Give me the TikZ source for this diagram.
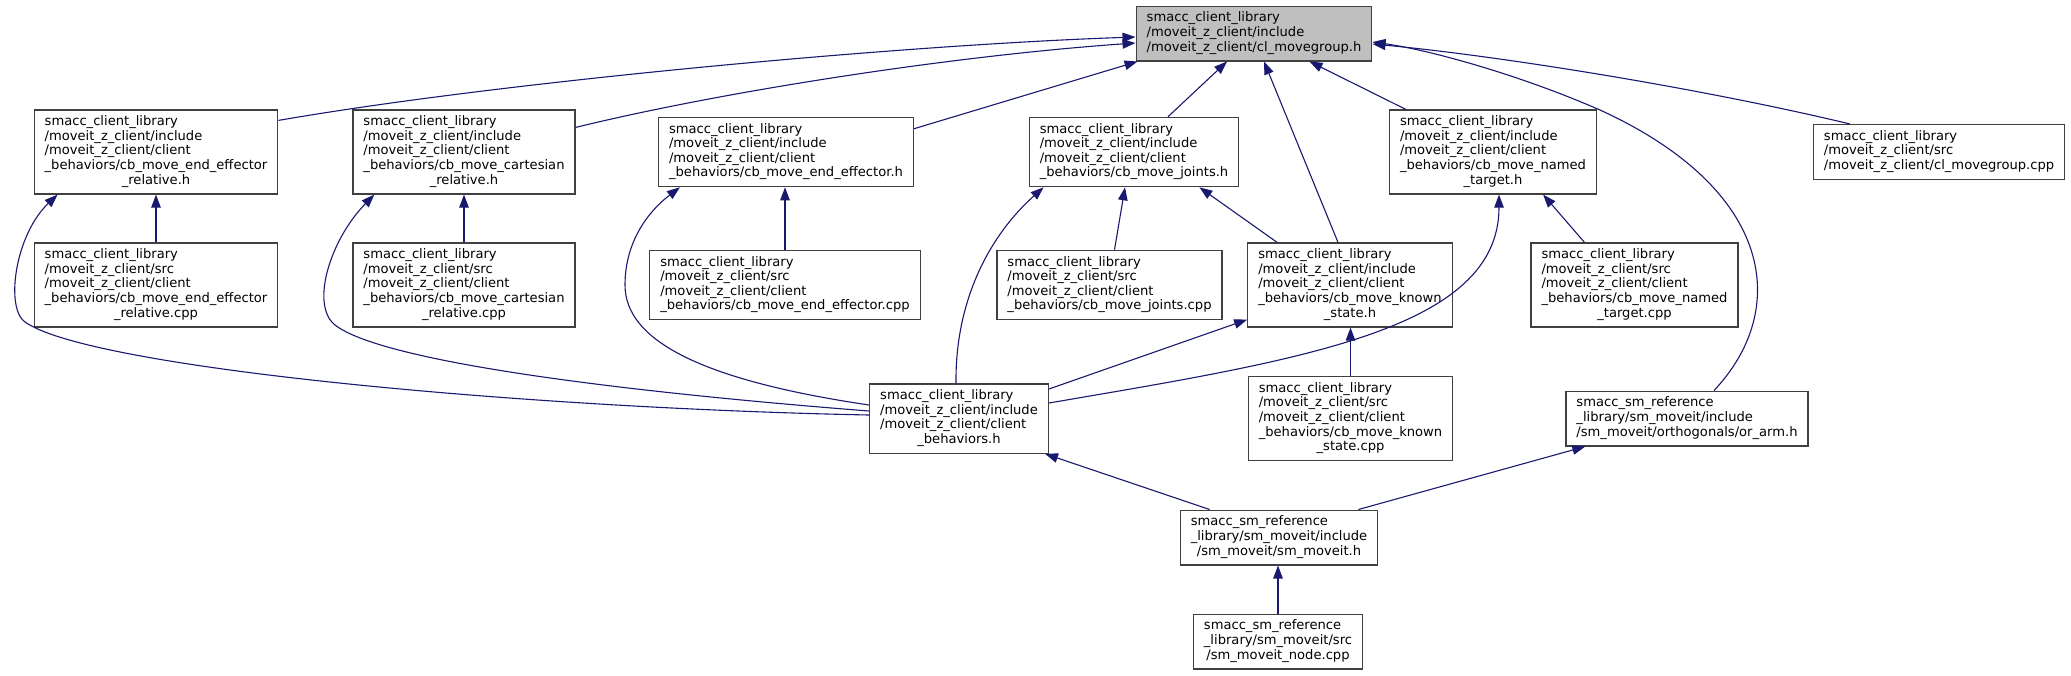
\documentclass[tikz,border=0pt]{standalone}
\usepackage{fontspec}
\setmainfont{DejaVu Sans}
\usetikzlibrary{arrows.meta,calc}
\definecolor{edgeblue}{HTML}{191970}
\definecolor{boxgray}{HTML}{404040}
\definecolor{topfill}{HTML}{BFBFBF}
\newcommand{\lbl}[2]{\begin{tabular}{@{}l@{}}#1\\\multicolumn{1}{@{}c@{}}{#2}\end{tabular}}
\tikzset{
  box/.style={draw=boxgray, line width=1.3pt, fill=white, font=\fontsize{13.1}{14.6}\selectfont,
    inner xsep=10.5pt, inner ysep=0pt, anchor=center},
  lthree/.style={minimum height=54.7pt},
  lfour/.style={minimum height=69.3pt},
  lfive/.style={minimum height=83.9pt},
  edge/.style={draw=edgeblue, line width=1.1pt, -{Triangle[length=13pt,width=9.5pt]}}
}
\begin{document}
\begin{tikzpicture}[x=1pt,y=-1pt]
\useasboundingbox (0,0) rectangle (2071,675);
\fill[white] (0,0) rectangle (2071,675);
% rank 0
\node[box,lthree,fill=topfill] (T) at (1254,33.5) {\lbl{smacc\_client\_library\\/moveit\_z\_client/include}{/moveit\_z\_client/cl\_movegroup.h}};
% rank 1
\node[box,lfive] (A) at (156,152) {\lbl{smacc\_client\_library\\/moveit\_z\_client/include\\/moveit\_z\_client/client\\\_behaviors/cb\_move\_end\_effector}{\_relative.h}};
\node[box,lfive] (B) at (464,152) {\lbl{smacc\_client\_library\\/moveit\_z\_client/include\\/moveit\_z\_client/client\\\_behaviors/cb\_move\_cartesian}{\_relative.h}};
\node[box,lfour] (C) at (786,152) {\lbl{smacc\_client\_library\\/moveit\_z\_client/include\\/moveit\_z\_client/client}{\_behaviors/cb\_move\_end\_effector.h}};
\node[box,lfour] (D) at (1134,152) {\lbl{smacc\_client\_library\\/moveit\_z\_client/include\\/moveit\_z\_client/client}{\_behaviors/cb\_move\_joints.h}};
\node[box,lfive] (E) at (1493,152) {\lbl{smacc\_client\_library\\/moveit\_z\_client/include\\/moveit\_z\_client/client\\\_behaviors/cb\_move\_named}{\_target.h}};
\node[box,lthree] (F) at (1939,152) {\lbl{smacc\_client\_library\\/moveit\_z\_client/src}{/moveit\_z\_client/cl\_movegroup.cpp}};
% rank 2
\node[box,lfive] (G) at (156,285) {\lbl{smacc\_client\_library\\/moveit\_z\_client/src\\/moveit\_z\_client/client\\\_behaviors/cb\_move\_end\_effector}{\_relative.cpp}};
\node[box,lfive] (H) at (464,285) {\lbl{smacc\_client\_library\\/moveit\_z\_client/src\\/moveit\_z\_client/client\\\_behaviors/cb\_move\_cartesian}{\_relative.cpp}};
\node[box,lfour] (I) at (785,285) {\lbl{smacc\_client\_library\\/moveit\_z\_client/src\\/moveit\_z\_client/client}{\_behaviors/cb\_move\_end\_effector.cpp}};
\node[box,lfour] (J) at (1109.5,285) {\lbl{smacc\_client\_library\\/moveit\_z\_client/src\\/moveit\_z\_client/client}{\_behaviors/cb\_move\_joints.cpp}};
\node[box,lfive] (K) at (1350,285) {\lbl{smacc\_client\_library\\/moveit\_z\_client/include\\/moveit\_z\_client/client\\\_behaviors/cb\_move\_known}{\_state.h}};
\node[box,lfive] (Q) at (1634.5,285) {\lbl{smacc\_client\_library\\/moveit\_z\_client/src\\/moveit\_z\_client/client\\\_behaviors/cb\_move\_named}{\_target.cpp}};
% rank 3
\node[box,lfour] (L) at (959,418.5) {\lbl{smacc\_client\_library\\/moveit\_z\_client/include\\/moveit\_z\_client/client}{\_behaviors.h}};
\node[box,lfive] (M) at (1350.5,418.5) {\lbl{smacc\_client\_library\\/moveit\_z\_client/src\\/moveit\_z\_client/client\\\_behaviors/cb\_move\_known}{\_state.cpp}};
\node[box,lthree] (N) at (1687,418.5) {\lbl{smacc\_sm\_reference\\\_library/sm\_moveit/include}{/sm\_moveit/orthogonals/or\_arm.h}};
% rank 4, 5
\node[box,lthree] (O) at (1279,537.5) {\lbl{smacc\_sm\_reference\\\_library/sm\_moveit/include}{/sm\_moveit/sm\_moveit.h}};
\node[box,lthree] (P) at (1278,641.5) {\lbl{smacc\_sm\_reference\\\_library/sm\_moveit/src}{/sm\_moveit\_node.cpp}};
% edges to T
\draw[edge] ($(A.north east)+(0,11)$) .. controls (500,82) and (900,45) .. ($(T.west)+(0,3.5)$);
\draw[edge] ($(B.north east)+(0,18)$) .. controls (720,92) and (950,56) .. ($(T.west)+(0,9.5)$);
\draw[edge] ($(C.north east)+(0,12)$) -- ($(T.south west)+(2,0)$);
\draw[edge] ($(D.north)+(34,0)$) -- ($(T.south)+(-27,0)$);
\draw[edge] ($(K.north)+(-12,0)$) -- ($(T.south)+(10,0)$);
\draw[edge] ($(E.north west)+(17,0)$) -- ($(T.south east)+(-63,0)$);
\draw[edge] ($(N.north)+(27,0)$) .. controls (1790,310) and (1775,190) .. (1600,110) .. controls (1520,75) and (1430,50) .. ($(T.east)+(0,8.5)$);
\draw[edge] ($(F.north)+(-89,0)$) .. controls (1700,88) and (1500,56) .. ($(T.east)+(0,10.5)$);
% rank1 parents
\draw[edge] (G.north) -- (A.south);
\draw[edge] ($(L.west)+(0,-3.5)$) .. controls (520,408) and (90,368) .. (25,322) .. controls (5,308) and (15,235) .. ($(A.south west)+(24,0)$);
\draw[edge] (H.north) -- (B.south);
\draw[edge] ($(L.west)+(0,-7.5)$) .. controls (600,390) and (380,360) .. (335,325) .. controls (310,305) and (330,240) .. ($(B.south west)+(22,0)$);
\draw[edge] (I.north) -- (I.north |- C.south);
\draw[edge] ($(L.west)+(0,-13.5)$) .. controls (700,380) and (625,340) .. (625,285) .. controls (625,240) and (650,210) .. ($(C.south west)+(22,0)$);
\draw[edge] ($(J.north)+(5,0)$) -- ($(D.south)+(-9,0)$);
\draw[edge] ($(L.north)+(-3,0)$) .. controls (955,300) and (990,235) .. ($(D.south west)+(15,0)$);
\draw[edge] ($(K.north west)+(30,0)$) -- ($(D.south east)+(-40,0)$);
\draw[edge] ($(L.east)+(0,-29.5)$) -- ($(K.south west)+(0,-8)$);
\draw[edge] (M.north) -- (M.north |- K.south);
\draw[edge] ($(L.east)+(0,-15.5)$) .. controls (1300,360) and (1499,330) .. ($(E.south)+(6,0)$);
\draw[edge] ($(Q.north)+(-50,0)$) -- ($(E.south east)+(-54,0)$);
% lower
\draw[edge] ($(O.north west)+(30,0)$) -- ($(L.south east)+(-4,0)$);
\draw[edge] ($(O.north east)+(-20,0)$) -- ($(N.south west)+(20,0)$);
\draw[edge] (P.north) -- (P.north |- O.south);
\end{tikzpicture}
\end{document}
